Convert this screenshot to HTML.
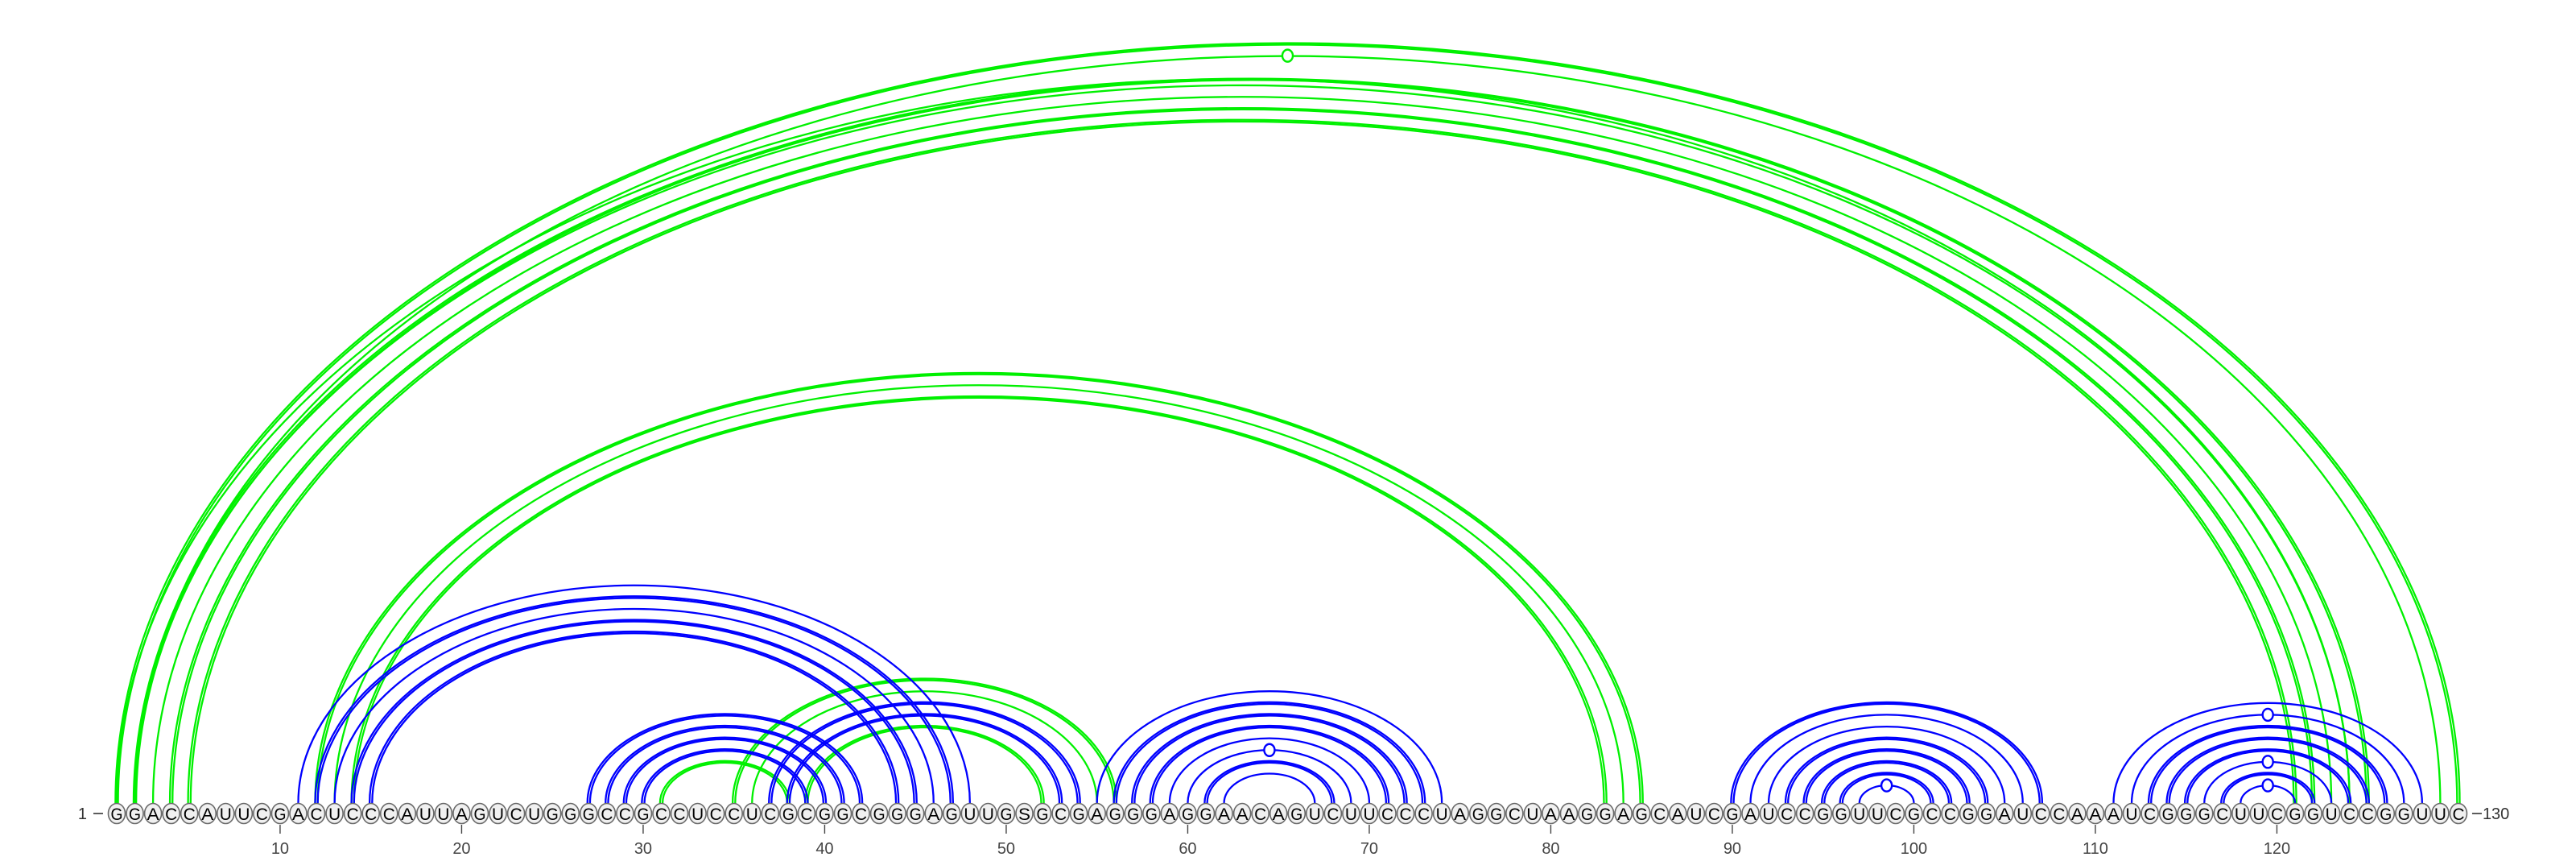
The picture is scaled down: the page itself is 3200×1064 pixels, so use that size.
<!DOCTYPE html>
<html><head><meta charset="utf-8">
<style>
html,body{margin:0;padding:0;background:#fff;}
svg{display:block;}
</style></head>
<body>
<svg id="chart" width="3200" height="1064" viewBox="0 0 3200 1064" xmlns="http://www.w3.org/2000/svg">
<g id="arcs"></g>
<g id="nts"></g>
<g id="axis"></g>
</svg>
<script>
const sequence = "GGACCAUUCGACUCCCAUUAGUCUGGGCCGCCUCCUCGCGGCGGGAGUUGSGCGAGGGAGGAACAGUCUUCCCUAGGCUAAGGAGCAUCGAUCCGGUUCGCCGGAUCCAAAUCGGGCUUCGGUCCGGUUC";
// pairs: [i, j, multiplicity, marker(0/1)]
const greenPairs = [
  [1,130,2,0],[2,129,1,1],[1,124,1,0],[2,125,2,0],[2,124,1,0],[3,123,1,0],[4,122,2,0],[5,121,2,0],
  [12,85,2,0],[13,84,1,0],[14,83,2,0],
  [31,38,2,0],[35,56,2,0],[36,55,1,0],[39,52,2,0]
];
const bluePairs = [
  [11,48,1,0],[12,47,2,0],[13,46,1,0],[14,45,2,0],[15,44,2,0],
  [27,42,2,0],[28,41,2,0],[29,40,2,0],[30,39,2,0],
  [37,54,2,0],[38,53,2,0],
  [55,74,1,0],[56,73,2,0],[57,72,2,0],[58,71,2,0],[59,70,1,0],[60,69,1,1],[61,68,2,0],[62,67,1,0],
  [90,107,2,0],[91,106,1,0],[92,105,1,0],[93,104,2,0],[94,103,2,0],[95,102,2,0],[96,101,2,0],[97,100,1,1],
  [111,128,1,0],[112,127,1,1],[113,126,2,0],[114,125,2,0],[115,124,2,0],[116,123,1,1],[117,122,2,0],[118,121,1,1]
];
const tickLabels = [10,20,30,40,50,60,70,80,90,100,110,120];

const NS = "http://www.w3.org/2000/svg";
const X0 = 145, STEP = 22.55, BASE = 997, CY = 1010, RATIO = 0.648;
function xPos(i){ return X0 + (i-1)*STEP; }
function mk(tag, attrs, parent){
  const e = document.createElementNS(NS, tag);
  for (const k in attrs) e.setAttribute(k, attrs[k]);
  parent.appendChild(e); return e;
}
const arcsG = document.getElementById('arcs');
function drawPairs(pairs, color, name){
  pairs.forEach(p => {
    const [i,j,m,mark] = p;
    for (let k=0;k<m;k++){
      const off = (k - (m-1)/2) * 3.2;
      const x1 = xPos(i) - off, x2 = xPos(j) + off;
      const rx = (x2-x1)/2, ry = rx*RATIO;
      const path = mk('path', {d:`M ${x1} ${BASE} A ${rx} ${ry} 0 0 1 ${x2} ${BASE}`, fill:'none', stroke:color, 'stroke-width':2.3}, arcsG);
      
      
    }
    if (mark){
      const cx = (xPos(i)+xPos(j))/2, ry = (xPos(j)-xPos(i))/2*RATIO;
      const c = mk('ellipse', {cx:cx, cy:BASE-ry, rx:6.5, ry:7.5, fill:'#fff', stroke:color, 'stroke-width':2.4}, arcsG);
      
      
    }
  });
}
drawPairs(greenPairs, '#00f000', 'green');
drawPairs(bluePairs, '#0000ff', 'blue');

const ntG = document.getElementById('nts');
for (let i=1;i<=sequence.length;i++){
  const g = mk('g', {}, ntG);
  
  
  mk('ellipse', {cx:xPos(i), cy:CY, rx:10.5, ry:12.5, fill:'#f0f0f0', stroke:'#6a6a6a', 'stroke-width':1.6}, g);
  const t = mk('text', {x:xPos(i), y:CY+8, 'text-anchor':'middle', 'font-family':'Liberation Sans, sans-serif', 'font-size':21, fill:'#000', textLength:15, lengthAdjust:'spacingAndGlyphs'}, g);
  t.textContent = sequence[i-1];
}
const axG = document.getElementById('axis');
const startLbl = mk('text', {x:108, y:CY+7, 'text-anchor':'end', 'font-family':'Liberation Sans, sans-serif', 'font-size':20, fill:'#333'}, axG);
startLbl.textContent = '1';


mk('line', {x1:116, y1:CY, x2:128, y2:CY, stroke:'#333', 'stroke-width':1.6}, axG);
mk('line', {x1:xPos(130)+17, y1:CY, x2:xPos(130)+29, y2:CY, stroke:'#333', 'stroke-width':1.6}, axG);
const endLbl = mk('text', {x:xPos(130)+30, y:CY+7, 'text-anchor':'start', 'font-family':'Liberation Sans, sans-serif', 'font-size':20, fill:'#333'}, axG);
endLbl.textContent = '130';


tickLabels.forEach(v => {
  const l = mk('line', {x1:xPos(v), y1:1024, x2:xPos(v), y2:1035, stroke:'#444', 'stroke-width':1.4}, axG);
  
  
  const t = mk('text', {x:xPos(v), y:1060, 'text-anchor':'middle', 'font-family':'Liberation Sans, sans-serif', 'font-size':20, fill:'#444'}, axG);
  t.textContent = String(v);
  
  
});
</script>
</body></html>
